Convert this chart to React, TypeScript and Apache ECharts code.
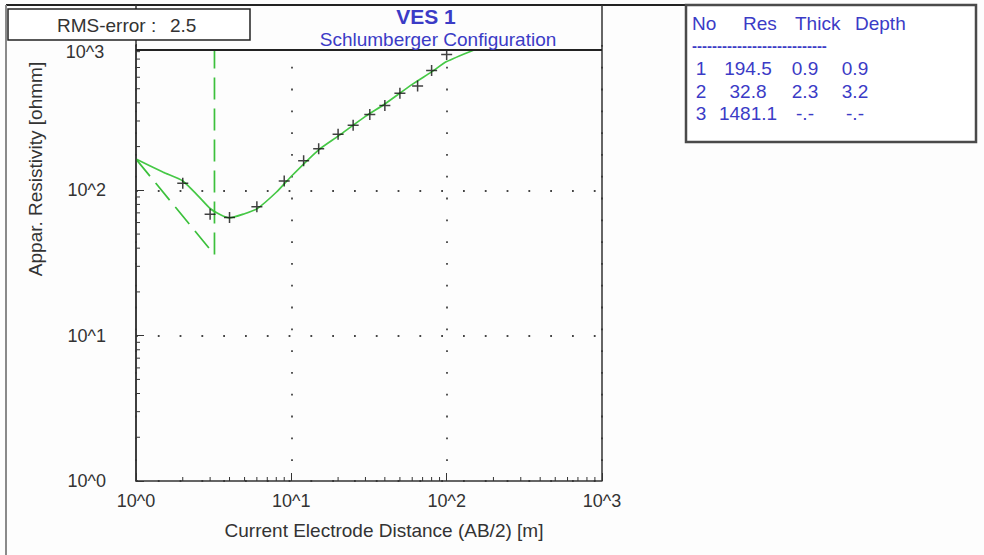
import React, { useEffect, useRef } from 'react';
import * as echarts from 'echarts';

// measured field data
const abHalf = [2, 3, 4, 6, 9, 12, 15, 20, 25, 32, 40, 50, 65, 80, 100];
const apparentRes = [112, 68.5, 65, 77, 116, 160, 193, 243, 280, 332, 383, 466, 523, 667, 859];
// calculated model curve
const modelAb = [1, 1.5, 2, 2.5, 3, 3.5, 4, 5, 6, 8, 10, 15, 20, 30, 40, 60, 80, 100, 150];
const modelRes = [164, 133, 116, 92, 75, 68, 64.6, 69, 74.5, 97, 125, 190, 236, 323, 393, 536, 653, 769, 925];
// layer model (dashed)
const layerAb = [1, 3.2, 3.2];
const layerLine = [164, 36, 1000];
// axes
const decadeLabels = ['10^0', '10^1', '10^2', '10^3'];
const minorTicks = [2, 3, 4, 5, 6, 7, 8, 9, 20, 30, 40, 50, 60, 70, 80, 90, 200, 300, 400, 500, 600, 700, 800, 900];
// table
const tableHeader = ['No', 'Res', 'Thick', 'Depth'];
const layerNo = ['1', '2', '3'];
const layerResTxt = ['194.5', '32.8', '1481.1'];
const layerThick = ['0.9', '2.3', '-.-'];
const layerDepth = ['0.9', '3.2', '-.-'];
const rmsError = '2.5';

const FONT = '"Liberation Sans", Arial, Helvetica, sans-serif';
const BLUE = '#3b3bc6';
const TXT = '#333333';

export default function App() {
  const ref = useRef<HTMLDivElement>(null);
  useEffect(() => {
    if (!ref.current) return;
    const chart = echarts.init(ref.current, undefined, { renderer: 'svg' });
    const fmt = (v: number) => decadeLabels[Math.round(Math.log10(v))] ?? '';

    const headerX = [692, 743, 795, 855];
    const colX = [701, 748, 805, 855];
    const rowY = [68, 91, 113];
    const tableTexts: any[] = [];
    tableHeader.forEach((t, i) =>
      tableTexts.push({ type: 'text', z: 20, x: headerX[i], y: 23, style: { text: t, fontSize: 19, fontFamily: FONT, fill: BLUE, align: 'left', verticalAlign: 'middle' } })
    );
    tableTexts.push({ type: 'text', z: 20, x: 692, y: 45, style: { text: '---------------------------', fontSize: 15, fontFamily: FONT, fontWeight: 'bold', fill: BLUE, align: 'left', verticalAlign: 'middle' } });
    const cols = [layerNo, layerResTxt, layerThick, layerDepth];
    cols.forEach((col, ci) =>
      col.forEach((t, ri) =>
        tableTexts.push({ type: 'text', z: 20, x: colX[ci], y: rowY[ri], style: { text: t, fontSize: 19, fontFamily: FONT, fill: BLUE, align: 'center', verticalAlign: 'middle' } })
      )
    );

    const option: any = {
      animation: false,
      backgroundColor: '#fdfdfd',
      grid: { left: 136, right: 382, top: 45, bottom: 74, containLabel: false },
      xAxis: {
        type: 'log', logBase: 10, min: 1, max: 1000,
        axisLine: { lineStyle: { color: TXT, width: 1.5 } },
        axisTick: { inside: true, length: 8, lineStyle: { color: TXT } },
        axisLabel: { formatter: fmt, fontSize: 18, color: TXT, fontFamily: FONT, margin: 11 },
        splitLine: { show: true, lineStyle: { type: [1.8, 20], color: '#444', width: 1.8 } },
        name: 'Current Electrode Distance (AB/2) [m]',
        nameLocation: 'middle', nameGap: 40,
        nameTextStyle: { fontSize: 19, color: TXT, fontFamily: FONT, padding: [0, 0, 0, 30] },
      },
      yAxis: {
        type: 'log', logBase: 10, min: 1, max: 1000,
        axisLine: { lineStyle: { color: TXT, width: 1.5 } },
        axisTick: { inside: true, length: 8, lineStyle: { color: TXT } },
        axisLabel: { formatter: fmt, fontSize: 18, color: TXT, fontFamily: FONT, margin: 30, showMaxLabel: false },
        splitLine: { show: true, lineStyle: { type: [1.8, 20], color: '#444', width: 1.8 } },
      },
      series: [
        {
          type: 'line', data: modelAb.map((x, i) => [x, modelRes[i]]), showSymbol: false, smooth: 0.2,
          lineStyle: { color: '#46c846', width: 1.7 }, z: 3,
        },
        {
          type: 'line', data: layerAb.map((x, i) => [x, layerLine[i]]), showSymbol: false,
          lineStyle: { color: '#3cc03c', width: 1.7, type: [22, 9] }, z: 3,
        },
        {
          type: 'scatter', data: abHalf.map((x, i) => [x, apparentRes[i]]),
          symbol: 'path://M5,0 L5,10 M0,5 L10,5', symbolSize: 11,
          itemStyle: { color: 'transparent', borderColor: '#111', borderWidth: 1.5 }, z: 4,
        },
        {
          type: 'custom', data: minorTicks.map((v) => [v, 1]), silent: true,
          renderItem: (_p: any, api: any) => {
            const p = api.coord([api.value(0), api.value(1)]);
            return { type: 'line', shape: { x1: p[0], y1: p[1], x2: p[0], y2: p[1] - 4 }, style: { stroke: TXT, lineWidth: 1 } };
          },
        },
        {
          type: 'custom', data: minorTicks.map((v) => [1, v]), silent: true,
          renderItem: (_p: any, api: any) => {
            const p = api.coord([api.value(0), api.value(1)]);
            return { type: 'line', shape: { x1: p[0], y1: p[1], x2: p[0] + 4, y2: p[1] }, style: { stroke: TXT, lineWidth: 1 } };
          },
        },
      ],
      graphic: {
        elements: [
          { type: 'rect', z: 10, shape: { x: 137, y: 6, width: 464, height: 43 }, style: { fill: '#fdfdfd' } },
          { type: 'line', z: 11, shape: { x1: 6, y1: 5, x2: 686, y2: 5 }, style: { stroke: '#222', lineWidth: 2 } },
          { type: 'line', z: 11, shape: { x1: 6, y1: 5, x2: 6, y2: 555 }, style: { stroke: '#8a8a8a', lineWidth: 2 } },
          { type: 'line', z: 11, shape: { x1: 136, y1: 5, x2: 136, y2: 481 }, style: { stroke: TXT, lineWidth: 1.5 } },
          { type: 'line', z: 11, shape: { x1: 602, y1: 5, x2: 602, y2: 481 }, style: { stroke: TXT, lineWidth: 1.5 } },
          { type: 'line', z: 11, shape: { x1: 136, y1: 50, x2: 602, y2: 50 }, style: { stroke: '#222', lineWidth: 2 } },
          { type: 'rect', z: 12, shape: { x: 8, y: 9, width: 242, height: 31 }, style: { fill: '#ffffff', stroke: '#222', lineWidth: 1.5 } },
          { type: 'text', z: 13, x: 57, y: 25, style: { text: 'RMS-error :', fontSize: 19, fontFamily: FONT, fill: TXT, align: 'left', verticalAlign: 'middle' } },
          { type: 'text', z: 13, x: 170, y: 25, style: { text: rmsError, fontSize: 19, fontFamily: FONT, fill: TXT, align: 'left', verticalAlign: 'middle' } },
          { type: 'text', z: 13, x: 85, y: 52, style: { text: decadeLabels[3], fontSize: 18, fontFamily: FONT, fill: TXT, align: 'center', verticalAlign: 'middle' } },
          { type: 'text', z: 13, x: 426, y: 16, style: { text: 'VES 1', fontSize: 21, fontWeight: 'bold', fontFamily: FONT, fill: BLUE, align: 'center', verticalAlign: 'middle' } },
          { type: 'text', z: 13, x: 438, y: 39, style: { text: 'Schlumberger Configuration', fontSize: 19, fontFamily: FONT, fill: BLUE, align: 'center', verticalAlign: 'middle' } },
          { type: 'text', z: 13, x: 35, y: 169, rotation: Math.PI / 2, style: { text: 'Appar. Resistivity [ohmm]', fontSize: 19, fontFamily: FONT, fill: TXT, align: 'center', verticalAlign: 'middle' } },
          { type: 'rect', z: 19, shape: { x: 686, y: 5, width: 290, height: 137 }, style: { fill: '#ffffff', stroke: '#4a4a4a', lineWidth: 2.5 } },
          ...tableTexts,
        ],
      },
    };
    chart.setOption(option);
    return () => chart.dispose();
  }, []);
  return <div ref={ref} style={{ position: 'fixed', left: 0, top: 0, width: 984, height: 555 }} />;
}
